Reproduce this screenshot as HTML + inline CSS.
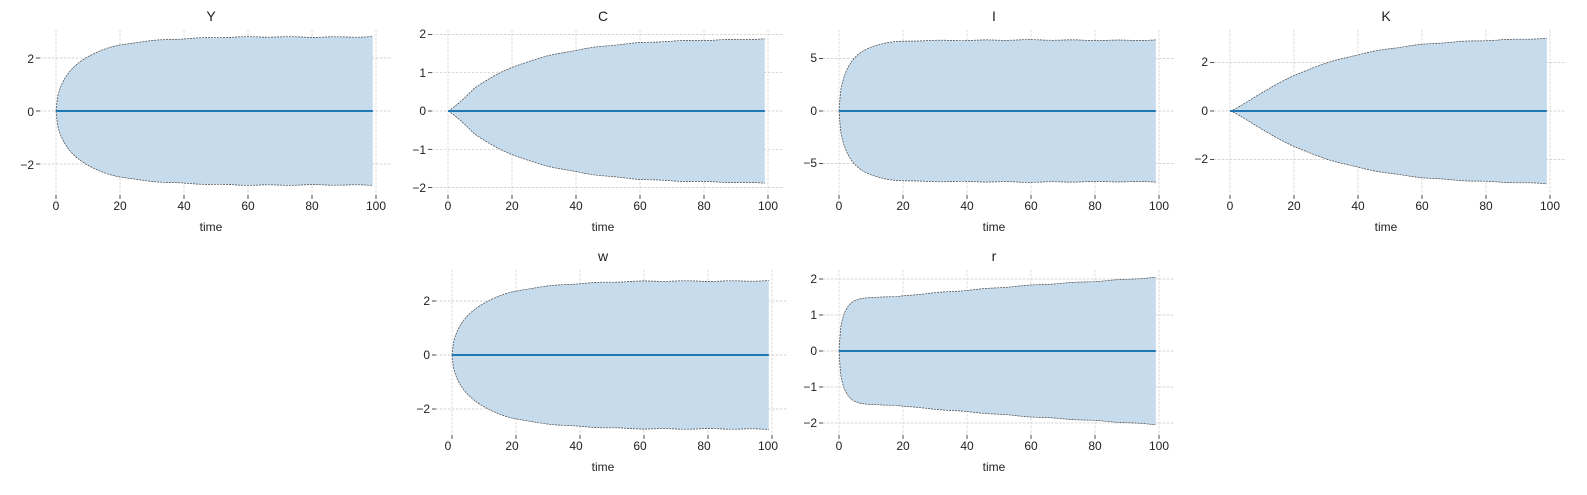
<!DOCTYPE html>
<html><head><meta charset="utf-8"><style>
body{margin:0;background:#fff;}
svg text{font-family:"Liberation Sans","DejaVu Sans",sans-serif;fill:#222;}
</style></head><body>
<svg id="s" width="1587" height="490" xmlns="http://www.w3.org/2000/svg">
<g id="g"></g>
<text x="211" y="21" font-size="14" text-anchor="middle">Y</text>
<text x="603" y="21" font-size="14" text-anchor="middle">C</text>
<text x="994" y="21" font-size="14" text-anchor="middle">I</text>
<text x="1386" y="21" font-size="14" text-anchor="middle">K</text>
<text x="603" y="261" font-size="14" text-anchor="middle">w</text>
<text x="994" y="261" font-size="14" text-anchor="middle">r</text>
<g font-size="12" text-anchor="middle">
<text x="56" y="210">0</text><text x="120" y="210">20</text><text x="184" y="210">40</text><text x="248" y="210">60</text><text x="312" y="210">80</text><text x="376" y="210">100</text>
<text x="448" y="210">0</text><text x="512" y="210">20</text><text x="576" y="210">40</text><text x="640" y="210">60</text><text x="704" y="210">80</text><text x="768" y="210">100</text>
<text x="839" y="210">0</text><text x="903" y="210">20</text><text x="967" y="210">40</text><text x="1031" y="210">60</text><text x="1095" y="210">80</text><text x="1159" y="210">100</text>
<text x="1230" y="210">0</text><text x="1294" y="210">20</text><text x="1358" y="210">40</text><text x="1422" y="210">60</text><text x="1486" y="210">80</text><text x="1550" y="210">100</text>
<text x="448" y="450">0</text><text x="512" y="450">20</text><text x="576" y="450">40</text><text x="640" y="450">60</text><text x="704" y="450">80</text><text x="768" y="450">100</text>
<text x="839" y="450">0</text><text x="903" y="450">20</text><text x="967" y="450">40</text><text x="1031" y="450">60</text><text x="1095" y="450">80</text><text x="1159" y="450">100</text>
<text x="211" y="231">time</text><text x="603" y="231">time</text><text x="994" y="231">time</text><text x="1386" y="231">time</text>
<text x="603" y="471">time</text><text x="994" y="471">time</text>
</g>
<g font-size="12" text-anchor="end">
<text x="34" y="63">2</text><text x="34" y="116">0</text><text x="34" y="169">−2</text>
<text x="426" y="38">2</text><text x="426" y="77">1</text><text x="426" y="115">0</text><text x="426" y="154">−1</text><text x="426" y="192">−2</text>
<text x="817" y="62">5</text><text x="817" y="115">0</text><text x="817" y="167">−5</text>
<text x="1208" y="66">2</text><text x="1208" y="115">0</text><text x="1208" y="163">−2</text>
<text x="430" y="305">2</text><text x="430" y="359">0</text><text x="430" y="413">−2</text>
<text x="817" y="283">2</text><text x="817" y="319">1</text><text x="817" y="355">0</text><text x="817" y="391">−1</text><text x="817" y="427">−2</text>
</g>
</svg>
<script>
var g=document.getElementById('g'),NS='http://www.w3.org/2000/svg';
function el(t,a){var e=document.createElementNS(NS,t);for(var k in a)e.setAttribute(k,a[k]);g.appendChild(e);}
var P=[
{x0:56,y0:111,s:26.5,top:30,bot:195,ticks:[2,0,-2],f:function(t){return 2.8*Math.sqrt(1-Math.exp(-t/13));}},
{x0:448,y0:111,s:38.3,top:30,bot:195,ticks:[2,1,0,-1,-2],f:function(t){return 1.9*(1-Math.exp(-t/22))*Math.min(1,0.6+t/8*0.4);}},
{x0:839,y0:111,s:10.5,top:30,bot:195,ticks:[5,0,-5],f:function(t){return 6.75*Math.sqrt(1-Math.exp(-t/6));}},
{x0:1230,y0:111,s:24.3,top:30,bot:195,ticks:[2,0,-2],f:function(t){return 3.05*Math.pow(1-Math.exp(-t/24),1.3);}},
{x0:452,y0:355,s:27,top:270,bot:435,ticks:[2,0,-2],f:function(t){return 2.75*Math.sqrt(1-Math.exp(-t/15));}},
{x0:839,y0:351,s:36,top:270,bot:435,ticks:[2,1,0,-1,-2],f:function(t){return 1.5*Math.sqrt(1-Math.exp(-t/2.5))+0.55*Math.pow(Math.max(0,t-18)/82,0.8);}}
];
P.forEach(function(p){
 var L=p.x0-16,R=p.x0+336;
 for(var i=0;i<=5;i++){var x=p.x0+i*64;el('line',{x1:x,x2:x,y1:p.top,y2:p.bot,stroke:'#c8c8c8','stroke-width':0.7,'stroke-dasharray':'2.5,1.5'});el('line',{x1:x,x2:x,y1:p.bot,y2:p.bot+4,stroke:'#222','stroke-width':0.8});}
 p.ticks.forEach(function(v){var y=p.y0-v*p.s;el('line',{x1:L,x2:R,y1:y,y2:y,stroke:'#c8c8c8','stroke-width':0.7,'stroke-dasharray':'2.5,1.5'});el('line',{x1:L-4,x2:L,y1:y,y2:y,stroke:'#222','stroke-width':0.8});});
 var up=[],lo=[];
 for(var t=0;t<=99;t+=0.5){var n=t>0?0.004*Math.sin(t*0.45)+0.003*Math.sin(t*0.13):0;var a=p.f(t)*(1+n);var x=p.x0+t*3.2;up.push(x.toFixed(1)+','+(p.y0-a*p.s).toFixed(1));lo.push(x.toFixed(1)+','+(p.y0+a*p.s).toFixed(1));}
 el('polygon',{points:up.concat(lo.slice().reverse()).join(' '),fill:'#c6dbec'});
 el('polyline',{points:up.join(' '),fill:'none',stroke:'#444','stroke-width':0.7,'stroke-dasharray':'2,1'});
 el('polyline',{points:lo.join(' '),fill:'none',stroke:'#444','stroke-width':0.7,'stroke-dasharray':'2,1'});
 el('line',{x1:p.x0,x2:p.x0+99*3.2,y1:p.y0,y2:p.y0,stroke:'#1f77b4','stroke-width':2});
});
</script>
</body></html>
